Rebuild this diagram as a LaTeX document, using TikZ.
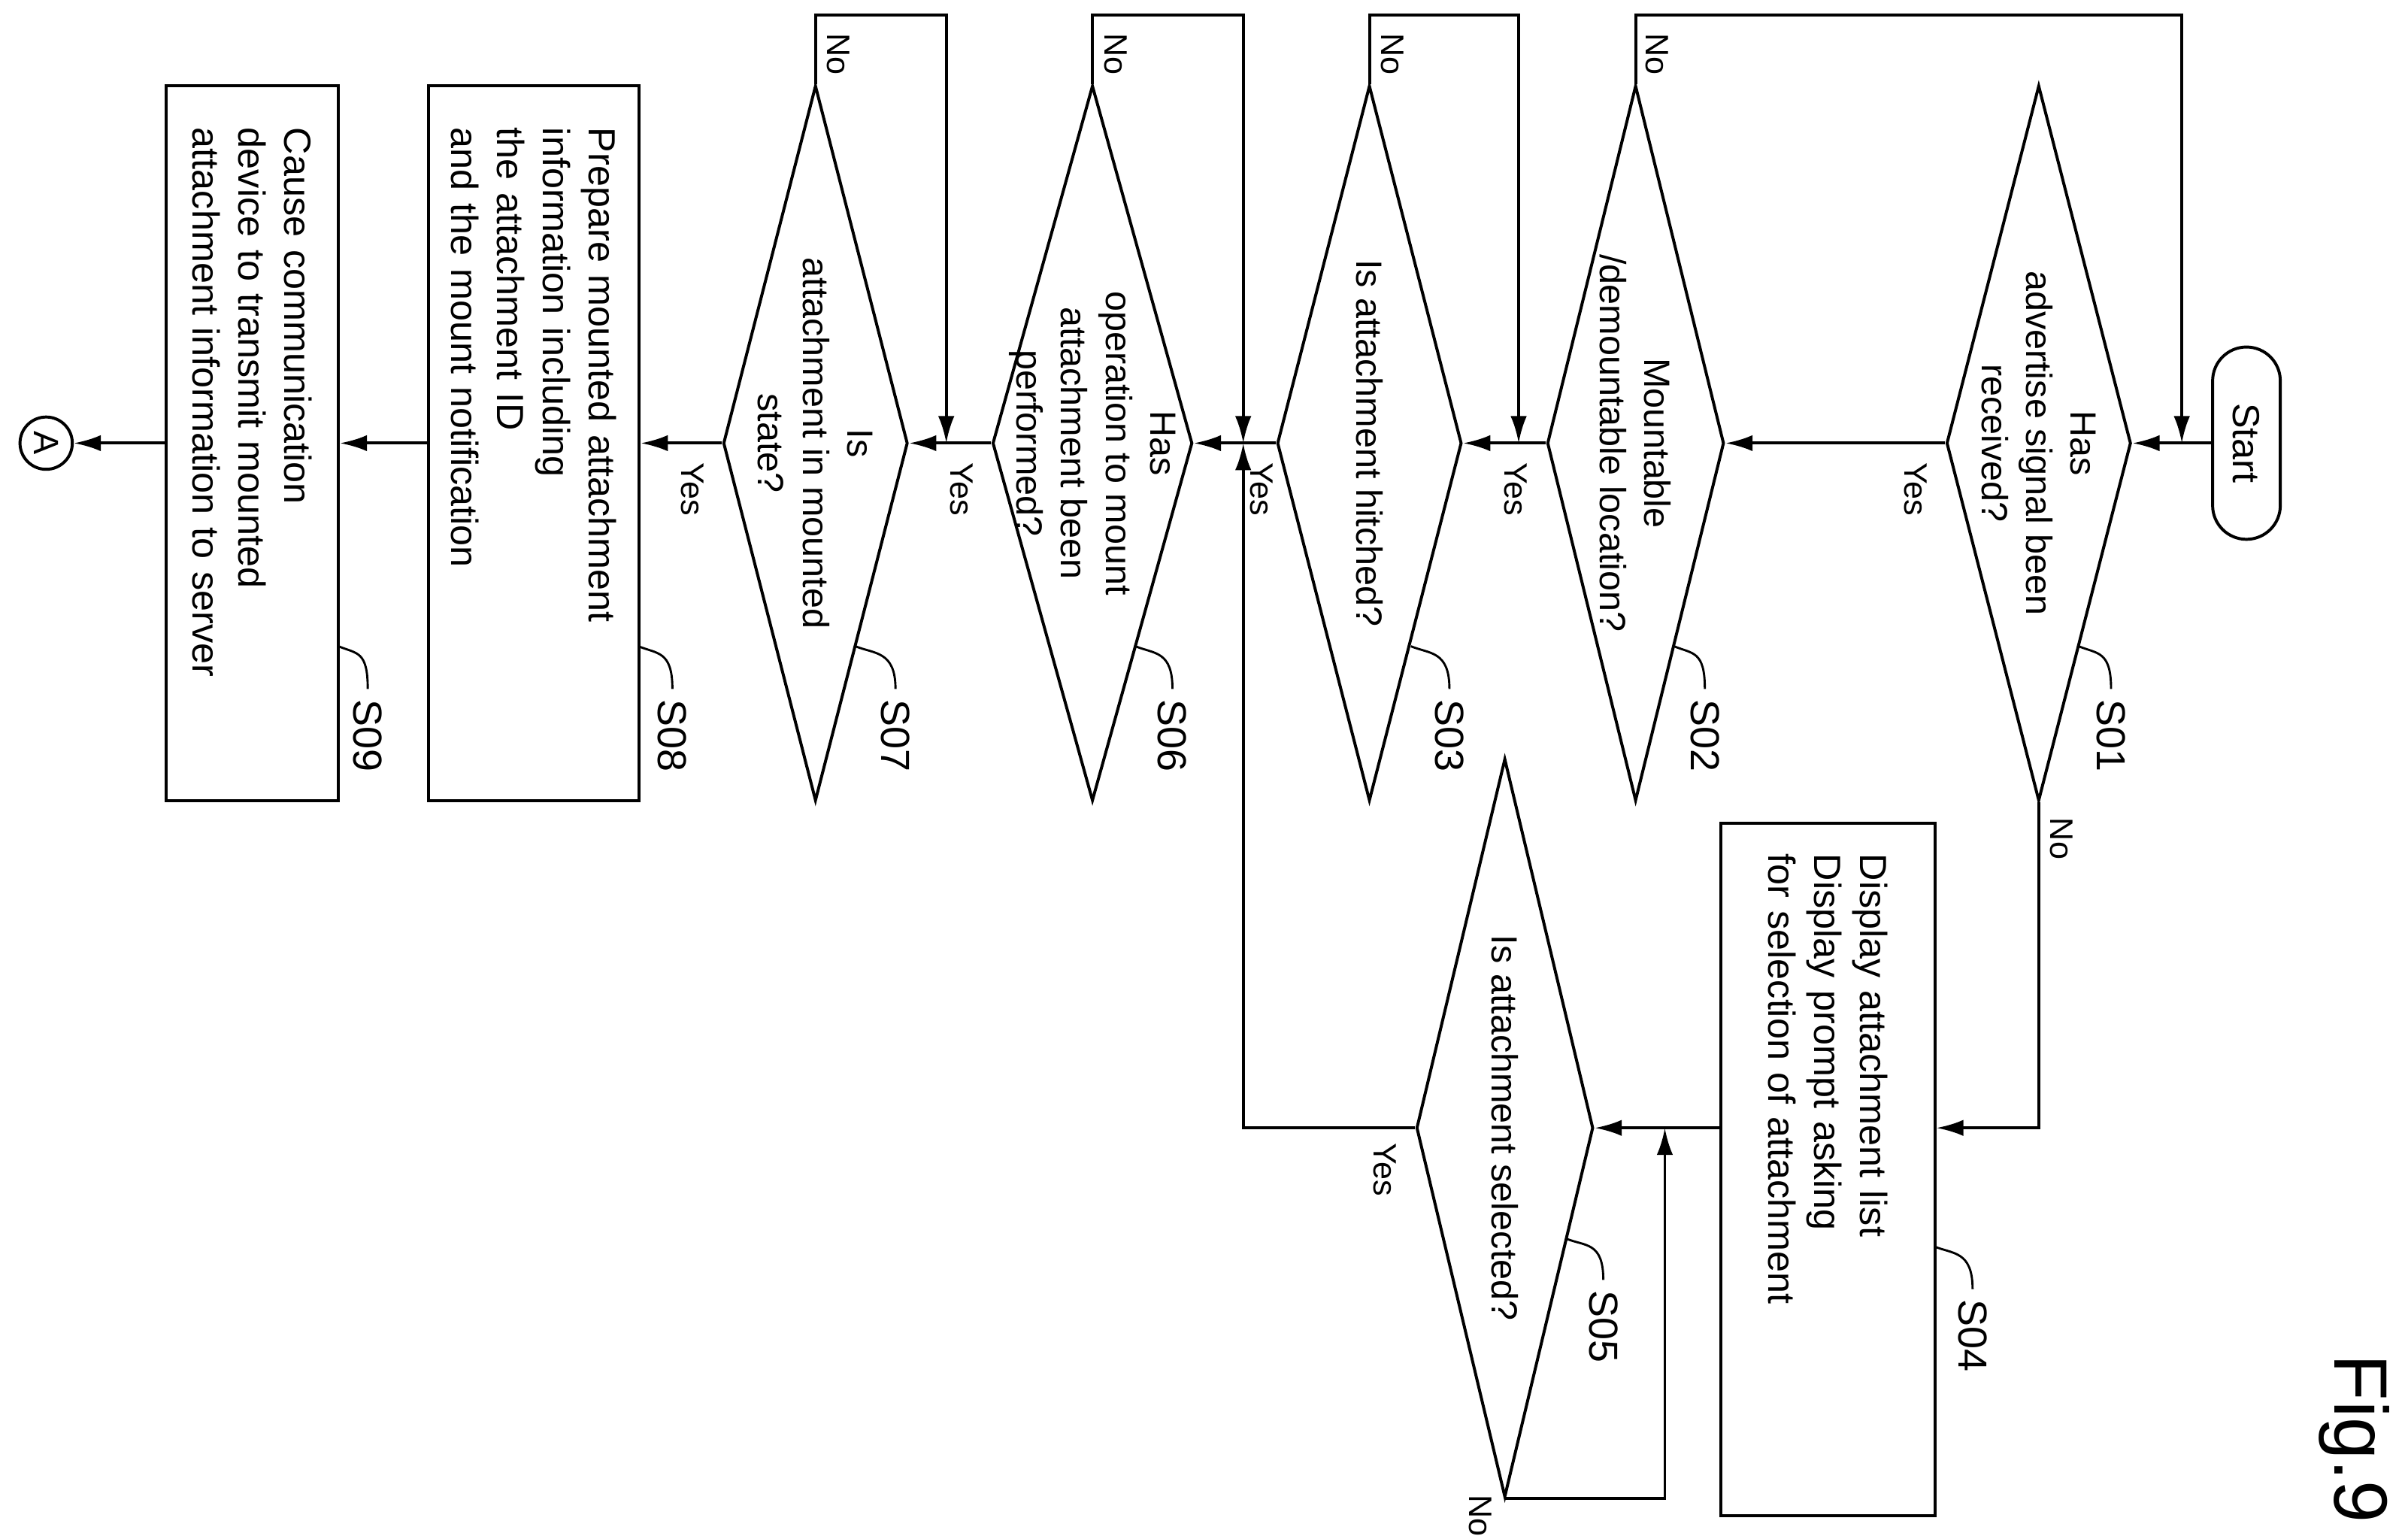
\documentclass[tikz,border=0pt]{standalone}
\usepackage{fontspec}
\setmainfont{Liberation Sans}
\usetikzlibrary{shapes.geometric,arrows.meta,calc}

\begin{document}
\begin{tikzpicture}[
    x=0.02cm, y=-0.02cm,
    line width=1.1pt,
    dia/.style={diamond, draw, rotate=-90, inner sep=0pt, minimum width=9.3cm},
    dtext/.style={rotate=-90, align=center, font=\fontsize{13.5}{16.5}\selectfont},
    box/.style={rectangle, draw, rotate=-90, minimum width=9.3cm, text width=8.2cm, align=left, font=\fontsize{14}{17}\selectfont},
    yn/.style={rotate=-90, font=\fontsize{12}{14}\selectfont},
    stp/.style={rotate=-90, font=\fontsize{15}{17}\selectfont},
    arrow/.style={-{Latex[length=10pt,width=6pt]}}
]
\useasboundingbox (0,0) rectangle (1565,998);

% main column
\node[draw, rounded corners=0.44cm, rotate=-90, minimum width=2.5cm, minimum height=0.88cm, font=\fontsize{14}{17}\selectfont] (start) at (1460,288) {Start};
\node[dia, minimum height=2.4cm, label={[dtext]center:{Has\\advertise signal been\\received?}}] (s01) at (1325,288) {};
\node[dia, minimum height=2.3cm, label={[dtext]center:{Mountable\\/demountable location?}}] (s02) at (1063,288) {};
\node[dia, minimum height=2.4cm, label={[dtext]center:{Is attachment hitched?}}] (s03) at (890,288) {};
\node[dia, minimum height=2.6cm, label={[dtext]center:{Has\\operation to mount\\attachment been\\performed?}}] (s06) at (710,288) {};
\node[dia, minimum height=2.4cm, label={[dtext]center:{Is\\attachment in mounted\\state?}}] (s07) at (530,288) {};
\node[box, minimum height=2.74cm] (s08) at (347,288) {Prepare mounted attachment\\information including\\the attachment ID\\and the mount notification};
\node[box, minimum height=2.24cm] (s09) at (164,288) {Cause communication\\device to transmit mounted\\attachment information to server};
\node[circle, draw, minimum size=0.68cm, inner sep=0pt, rotate=-90, font=\fontsize{13}{15}\selectfont] (a) at (30,288) {A};

% side branch
\node[box, minimum width=9cm, minimum height=2.78cm] (s04) at (1188,760) {Display attachment list\\Display prompt asking\\for selection of attachment};
\node[dia, minimum width=9.6cm, minimum height=2.3cm, label={[dtext]center:{Is attachment selected?}}] (s05) at (978,733) {};

\coordinate (j1) at (1418,288);
\coordinate (j3) at (987,288);
\coordinate (j6) at (808,288);
\coordinate (j7) at (615,288);
\coordinate (j5) at (1082,733);

% connectors
\draw[arrow] (start.south) -- (s01.north);
\draw[arrow] (s01.south) -- (s02.north);
\draw[arrow] (s02.south) -- (s03.north);
\draw[arrow] (s03.south) -- (s06.north);
\draw[arrow] (s06.south) -- (s07.north);
\draw[arrow] (s07.south) -- (s08.north);
\draw[arrow] (s08.south) -- (s09.north);
\draw[arrow] (s09.south) -- (a);

\draw[arrow] (s01.east) |- (s04.north |- s05.north);
\draw[arrow] (s04.south |- s05.north) -- (s05.north);
\draw[arrow] (s05.east) -| (j5);
\draw[arrow] (s05.south) -| (j6);

\draw[arrow] (s02.west) -- ++(0,-45) -| (j1);
\draw[arrow] (s03.west) -- ++(0,-45) -| (j3);
\draw[arrow] (s06.west) -- ++(0,-45) -| (j6);
\draw[arrow] (s07.west) -- ++(0,-45) -| (j7);

% yes / no labels
\node[yn] (y01) at (1245,318) {Yes};
\node[yn] (y02) at (985,318) {Yes};
\node[yn] (y03) at (820,318) {Yes};
\node[yn] (y06) at (625,318) {Yes};
\node[yn] (y07) at (450,318) {Yes};
\node[yn] (y05) at (900,760) {Yes};
\node[yn] (n01) at (1340,545) {No};
\node[yn] (n02) at (1077,35) {No};
\node[yn] (n03) at (905,35) {No};
\node[yn] (n06) at (725,35) {No};
\node[yn] (n07) at (545,35) {No};
\node[yn] (n05) at (962,985) {No};

% step labels
\foreach \nm/\x/\e in {S01/1372/1351, S02/1108/1088, S03/942/917, S06/762/738, S07/582/556, S08/437/415, S09/239/220} {
  \node[stp] (l\nm) at (\x,478) {\nm};
  \draw[line width=0.8pt] (l\nm.west) .. controls ++(0,-25) and ++(12,5) .. (\e,420);
}
\node[stp] (lS04) at (1282,868) {S04};
\draw[line width=0.8pt] (lS04.west) .. controls ++(0,-25) and ++(12,5) .. (1257,810);
\node[stp] (lS05) at (1042,862) {S05};
\draw[line width=0.8pt] (lS05.west) .. controls ++(0,-25) and ++(12,5) .. (1018,805);

\node[rotate=-90, font=\fontsize{28}{30}\selectfont] (fig) at (1530,935) {Fig.9};
\end{tikzpicture}
\end{document}
